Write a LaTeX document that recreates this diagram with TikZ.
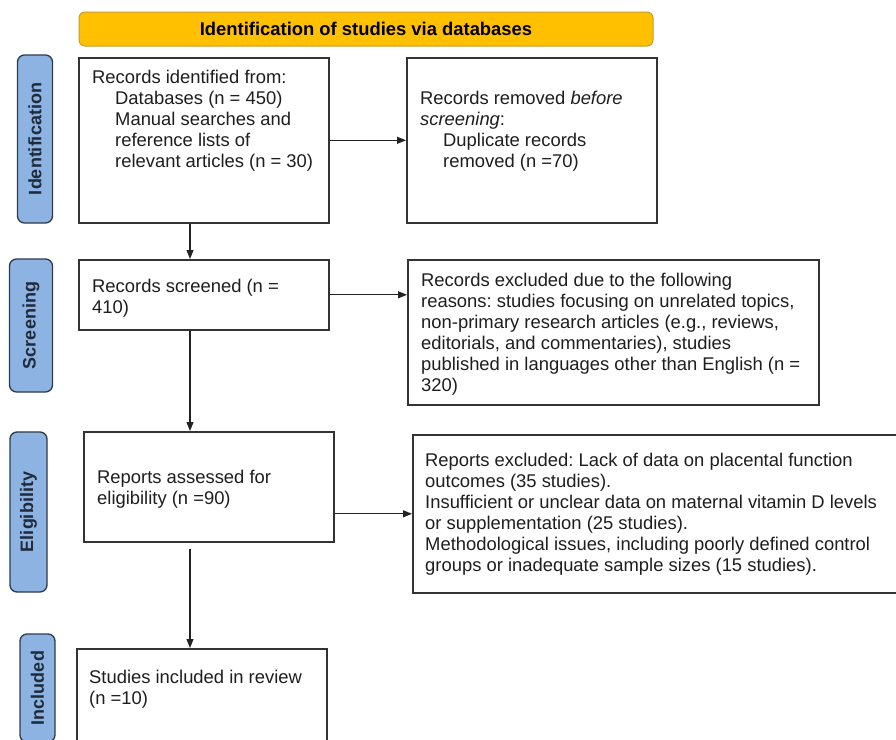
\documentclass[tikz,border=0pt]{standalone}
\usepackage{fontspec}
\setmainfont{Liberation Sans}
\usetikzlibrary{arrows.meta,calc}
\frenchspacing
\definecolor{banner}{HTML}{FFC000}
\definecolor{bannerline}{HTML}{C99A2E}
\definecolor{labfill}{HTML}{8DB3E2}
\definecolor{labline}{HTML}{2F3B4C}
\definecolor{labtext}{HTML}{1F2A3A}
\definecolor{boxline}{HTML}{333333}
\definecolor{txt}{HTML}{1E1E1E}
\definecolor{arrline}{HTML}{222222}
\begin{document}
\frenchspacing
\begin{tikzpicture}[x=1pt,y=-1pt,
  box/.style={draw=boxline, line width=1.6pt, fill=white, anchor=north west, inner sep=0},
  txtnode/.style={anchor=north west, inner sep=0, align=left, text=txt, font=\fontsize{18.4}{21}\selectfont},
  lab/.style={draw=labline, line width=1.3pt, fill=labfill, rounded corners=7pt, rotate=90, font=\bfseries\fontsize{18}{21}\selectfont, text=labtext, inner sep=0},
  arr/.style={-{Triangle[length=9pt,width=7pt]}, line width=1.1pt, draw=arrline}]
\clip (0,0) rectangle (896,739);
\fill[white] (0,0) rectangle (896,739);
\coordinate (spine) at (190,0);

% banner
\node[draw=bannerline, fill=banner, rounded corners=6pt, line width=1pt,
  minimum width=574, minimum height=34, inner sep=0,
  font=\bfseries\fontsize{18.4}{21}\selectfont, text=black] (banner) at (366,29)
  {Identification of studies via databases};

% side labels
\node[lab, minimum width=168, minimum height=35] (lid) at (35,139) {Identification};
\node[lab, minimum width=133, minimum height=43] (lsc) at (31,325.5) {Screening};
\node[lab, minimum width=160, minimum height=37] (lel) at (28.5,512) {Eligibility};
\node[lab, minimum width=108, minimum height=35] (lin) at (37.5,688) {Included};

% boxes
\node[box, minimum width=250, minimum height=165] (b1) at (78,57) {};
\node[box, minimum width=250, minimum height=165] (b2) at (406,57) {};
\node[box, minimum width=250, minimum height=70] (b3) at (78,259) {};
\node[box, minimum width=411, minimum height=145] (b4) at (407,259) {};
\node[box, minimum width=250, minimum height=110] (b5) at (83,431) {};
\node[box, minimum width=500, minimum height=158] (b6) at (412,434) {};
\node[box, minimum width=250, minimum height=110] (b7) at (76,648) {};

% texts
\node[txtnode] (t1) at (92,70) {Records identified from:\\
\hspace*{23pt}Databases (n = 450)\\
\hspace*{23pt}Manual searches and\\
\hspace*{23pt}reference lists of\\
\hspace*{23pt}relevant articles (n = 30)};
\node[txtnode] (t2) at (420,91) {Records removed \textit{before}\\
\textit{screening}:\\
\hspace*{23pt}Duplicate records\\
\hspace*{23pt}removed (n =70)};
\node[txtnode] (t3) at (92,279) {Records screened (n =\\410)};
\node[txtnode] (t4) at (421,273) {Records excluded due to the following\\
reasons: studies focusing on unrelated topics,\\
non-primary research articles (e.g., reviews,\\
editorials, and commentaries), studies\\
published in languages other than English (n =\\
320)};
\node[txtnode] (t5) at (97,470) {Reports assessed for\\eligibility (n =90)};
\node[txtnode] (t6) at (425,453) {Reports excluded: Lack of data on placental function\\
outcomes (35 studies).\\
Insufficient or unclear data on maternal vitamin D levels\\
or supplementation (25 studies).\\
Methodological issues, including poorly defined control\\
groups or inadequate sample sizes (15 studies).};
\node[txtnode] (t7) at (89,670) {Studies included in review\\(n =10)};

% connectors
\draw[arr] (b1.east) -- (b1.east -| b2.west);
\draw[arr] (b1.south -| spine) -- (b3.north -| spine);
\draw[arr] (b3.east) -- (b3.east -| b4.west);
\draw[arr] (b3.south -| spine) -- (b5.north -| spine);
\draw[arr] (b5.east |- b6.west) -- (b6.west);
\draw[arr] ($(b5.south -| spine)+(0,6)$) -- (b7.north -| spine);
\end{tikzpicture}
\end{document}
